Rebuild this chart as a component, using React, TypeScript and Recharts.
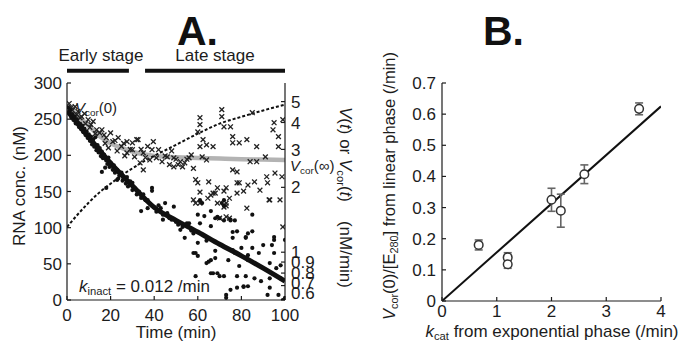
import React from "react";
import {
  ComposedChart,
  Line,
  Scatter,
  XAxis,
  YAxis,
  ReferenceLine,
  ReferenceDot,
  ErrorBar,
} from "recharts";

const FONT = '"Liberation Sans", Arial, Helvetica, sans-serif';
const INK = "#1c1c1c";

// ---------- panel A data ----------
const timeTicks = [0, 20, 40, 60, 80, 100];
const concTicks = [0, 50, 100, 150, 200, 250, 300];
const rateTicks = [0.6, 0.7, 0.8, 0.9, 1, 2, 3, 4, 5];

// exponential fit of RNA conc (nM)
const fitTime = [0, 10, 20, 30, 40, 50, 60, 70, 80, 90, 100];
const fitConc = [262, 225, 189, 158, 128, 110, 94, 77, 61, 44, 26];

// corrected rate Vcor(t), nM/min (right axis)
const vcorTime = [0, 5, 10, 15, 20, 25, 30, 35, 40, 50, 60, 70, 80, 90, 100];
const vcorRate = [4.85, 4.3, 3.85, 3.45, 3.2, 3.05, 2.93, 2.85, 2.8, 2.76, 2.74, 2.72, 2.7, 2.69, 2.68];

// uncorrected rate V(t), dotted curve
const vTime = [0, 5, 10, 15, 20, 25, 30, 35, 40, 50, 60, 70, 80, 90, 100];
const vRate = [1.31, 1.5, 1.7, 1.9, 2.08, 2.27, 2.45, 2.63, 2.8, 3.15, 3.55, 3.95, 4.25, 4.55, 4.84];

// measured RNA conc (time, nM)
const concPoints: [number, number][] = [
  [0.5, 266], [1, 259], [1.5, 263], [2, 252], [2.5, 257], [3, 249], [3.5, 254], [4, 244], [4.5, 250],
  [5, 246], [5.5, 239], [6, 244], [6.5, 236], [7, 241], [7.5, 232], [8, 237], [8.5, 228], [9, 233],
  [9.5, 224], [10, 229], [10.5, 220], [11, 226], [11.5, 215], [12, 222], [12.5, 212], [13, 225],
  [13.5, 207], [14, 214], [14.5, 204], [15, 210], [15.5, 199], [16, 205], [16, 177], [16.5, 196],
  [17, 201], [17.5, 183], [18, 193], [18, 155], [18.5, 188], [19, 197], [19.5, 184], [20, 190],
  [21, 180], [21.5, 186], [22, 176], [23, 180], [23, 166], [23.5, 168], [24, 172], [25, 176],
  [25.5, 165], [26, 168], [27, 161], [27.5, 170], [28, 157], [29, 164], [30, 152], [30, 162],
  [31, 155], [32, 146], [33, 150], [34, 141], [34, 123], [35, 146], [36, 138], [37, 127], [37, 138],
  [38, 133], [39, 151], [39, 155], [40, 128], [41, 122], [42, 131], [43, 127], [44, 118], [44, 111],
  [45, 134], [46, 120], [47, 113], [48, 111], [49, 129], [50, 108], [51, 104], [52, 97], [53, 101],
  [54, 86], [55, 106], [56, 106], [57, 96], [58, 92], [58, 65], [59, 95], [59, 65], [59, 33],
  [60, 118], [60, 79], [60, 61], [61, 138], [61, 106], [62, 134], [63, 116], [64, 82], [64, 51],
  [65, 53], [66, 123], [66, 102], [66, 55], [66, 37], [67, 37], [68, 113], [68, 68], [68, 58],
  [69, 115], [69, 37], [70, 113], [70, 33], [71, 134], [72, 130], [72, 138], [72, 110], [72, 33],
  [73, 7], [73, 3], [74, 55], [75, 111], [75, 110], [75, 14], [76, 94], [76, 86], [76, 69],
  [77, 110], [77, 65], [78, 95], [78, 33], [78, 17], [79, 47], [80, 72], [81, 19], [81, 18],
  [82, 86], [82, 87], [82, 33], [83, 92], [83, 62], [83, 55], [83, 19], [85, 118], [85, 95],
  [85, 72], [86, 51], [86, 30], [88, 65], [89, 26], [90, 76], [92, 7], [93, 51], [93, 30], [93, 17],
  [94, 76], [95, 83], [95, 87], [95, 65], [96, 44], [97, 7], [98, 48], [98, 30], [99, 0], [100, 83],
  [100, 3],
];

// measured rate V(t) (time, nM/min)
const ratePoints: [number, number][] = [
  [1, 4.9], [2, 4.7], [2.5, 4.55], [3.7, 4.74], [4.5, 4.35], [5, 4.5], [6, 4.2], [6.7, 4.26],
  [8, 4.4], [8.5, 3.95], [9.7, 4.12], [10.5, 3.8], [11, 3.91], [12, 4.05], [13, 3.55], [13.6, 3.7],
  [15, 3.58], [16, 3.7], [17, 3.5], [17.5, 3.2], [18, 3.4], [19, 3.05], [20, 3.58], [21, 3.26],
  [22, 3.3], [23, 2.95], [23.5, 3.4], [25, 3.1], [26, 3.2], [26.5, 2.8], [27.5, 3.26], [27.5, 2.89],
  [29, 3.0], [30, 3.22], [30, 2.99], [31, 2.77], [32, 3.33], [32.6, 3.33], [33.5, 2.6], [34, 3.0],
  [35, 2.89], [35, 2.41], [36, 2.75], [37, 3.1], [38, 2.68], [39, 2.99], [39.6, 3.26], [41, 2.74],
  [42, 2.99], [43.6, 2.63], [45, 2.8], [46, 2.77], [47, 2.55], [48, 2.95], [49, 2.74], [49, 2.49],
  [50, 2.7], [51, 2.55], [52, 2.63], [53, 2.49], [54, 2.6], [55, 2.7], [56, 2.74], [57, 2.83],
  [58, 2.45], [58, 1.75], [59, 2.17], [59, 1.69], [60, 3.62], [60, 2.1], [61, 4.21], [61, 3.91],
  [61, 3.09], [61, 1.9], [61, 1.69], [62, 2.77], [62.4, 3.33], [64, 3.15], [64, 2.68], [64.6, 1.78],
  [65, 2.12], [66, 1.84], [67, 3.09], [67, 1.88], [68, 1.88], [69, 1.99], [69, 1.69], [70, 1.44],
  [71, 4.59], [71, 4.26], [72, 3.82], [72, 1.92], [72, 1.62], [73, 1.99], [73, 1.69], [73, 1.64],
  [73, 1.46], [74.5, 1.78], [74.5, 1.44], [75, 3.82], [76, 3.44], [76, 3.22], [76, 2.41], [78, 2.36],
  [78, 2.1], [78, 1.88], [79, 3.22], [79, 2.1], [81, 1.92], [82.5, 3.33], [82.5, 1.6], [83, 2.05],
  [84, 2.63], [85, 4.44], [86, 2.12], [87, 3.09], [87, 2.63], [88.5, 1.94], [91, 2.77], [91.6, 2.24],
  [92, 2.1], [92.7, 1.75], [93, 1.75], [94.5, 3.7], [95, 3.99], [95.4, 2.33], [97, 3.44], [97, 3.09],
  [97.7, 1.75], [98.6, 2.24], [99, 4.12], [99, 1.31],
];

const earlyStage = [0, 28.4];
const lateStage = [35.8, 100];

// ---------- panel B data ----------
const kcatTicks = [0, 1, 2, 3, 4];
const ratioTicks = [0, 0.1, 0.2, 0.3, 0.4, 0.5, 0.6, 0.7];
const kcat = [0.67, 1.2, 1.2, 2.0, 2.17, 2.6, 3.6];
const vcor0 = [0.18, 0.14, 0.118, 0.325, 0.29, 0.407, 0.617];
const vcor0Err = [0.016, 0.015, 0.013, 0.037, 0.053, 0.03, 0.019];
const fitK = [0, 4];
const fitRatio = [0, 0.625];

// ---------- tables ----------
const fitData = fitTime.map((t, i) => ({ t, y: fitConc[i] }));
const vcorData = vcorTime.map((t, i) => ({ t, y: vcorRate[i] }));
const vData = vTime.map((t, i) => ({ t, y: vRate[i] }));
const concData = concPoints.map(([t, y]) => ({ t, y }));
const rateData = ratePoints.map(([t, y]) => ({ t, y }));
const bPoints = kcat.map((k, i) => ({ k, v: vcor0[i], err: vcor0Err[i] }));
const bLine = fitK.map((k, i) => ({ k, v: fitRatio[i] }));

// layout (px inside each svg)
const A = { left: 67, right: 285, top: 83, bottom: 300 };
const STAGE_BAR_Y = 317; // nM, just above the frame
const RIGHT_TICK_SHIFT: Record<number, number> = { 0.6: -7, 0.7: -3 };

type Part = { t: string; it?: boolean; sub?: boolean };

function Rich({ parts, x, y, size = 17, anchor = "start", rotate = 0 }: {
  parts: Part[]; x: number; y: number; size?: number; anchor?: string; rotate?: number;
}) {
  let low = false;
  const shift = size * 0.2;
  return (
    <text
      x={x}
      y={y}
      fontSize={size}
      fill={INK}
      textAnchor={anchor as any}
      style={{ whiteSpace: "pre" }}
      transform={rotate ? `rotate(${rotate} ${x} ${y})` : undefined}
    >
      {parts.map((p, i) => {
        const sub = !!p.sub;
        const dy = sub === low ? 0 : sub ? shift : -shift;
        low = sub;
        return (
          <tspan key={i} dy={dy} fontSize={sub ? size * 0.66 : size} fontStyle={p.it ? "italic" : "normal"}>
            {p.t}
          </tspan>
        );
      })}
    </text>
  );
}

function Cross(props: any) {
  const { cx, cy } = props;
  const s = 2.4;
  return (
    <g stroke="#222" strokeWidth={1.3}>
      <line x1={cx - s} y1={cy - s} x2={cx + s} y2={cy + s} />
      <line x1={cx - s} y1={cy + s} x2={cx + s} y2={cy - s} />
    </g>
  );
}

function Dot(props: any) {
  return <circle cx={props.cx} cy={props.cy} r={2.1} fill="#111" />;
}

function OpenCircle(props: any) {
  return <circle cx={props.cx} cy={props.cy} r={4.3} fill="#fff" stroke="#333" strokeWidth={1.5} />;
}

function RightTick(props: any) {
  const { x, y, payload } = props;
  const shift = RIGHT_TICK_SHIFT[payload.value] ?? 0;
  return (
    <text x={x} y={y + shift} dy="0.36em" textAnchor="start" fontSize={17} fill={INK}>
      {payload.value}
    </text>
  );
}

const tickText = { fontSize: 17, fill: INK };
const axisStroke = { stroke: INK, strokeWidth: 1.2 };

function PanelA() {
  return (
    <ComposedChart width={360} height={342} margin={{ top: A.top, right: 0, bottom: 0, left: 0 }}>
      <XAxis xAxisId="top" orientation="top" type="number" domain={[0, 100]} height={0} tick={false} tickLine={false} axisLine={axisStroke} />
      <XAxis
        dataKey="t"
        type="number"
        domain={[0, 100]}
        allowDataOverflow
        ticks={timeTicks}
        interval={0}
        height={42}
        tickSize={-4}
        tickMargin={13}
        tick={tickText}
        tickLine={axisStroke}
        axisLine={axisStroke}
        label={() => <Rich parts={[{ t: "Time (min)" }]} x={(A.left + A.right) / 2} y={338} anchor="middle" />}
      />
      <YAxis
        yAxisId="left"
        dataKey="y"
        type="number"
        domain={[0, 300]}
        allowDataOverflow
        ticks={concTicks}
        interval={0}
        width={67}
        tickSize={-4}
        tickMargin={9}
        tick={tickText}
        tickLine={axisStroke}
        axisLine={axisStroke}
        label={() => <Rich parts={[{ t: "RNA conc. (nM)" }]} x={25} y={186} anchor="middle" rotate={-90} />}
      />
      <YAxis
        yAxisId="right"
        orientation="right"
        dataKey="y"
        type="number"
        scale="log"
        domain={[0.6, 6.1]}
        allowDataOverflow
        ticks={rateTicks}
        interval={0}
        width={75}
        tickSize={-4}
        tickMargin={10}
        tick={<RightTick />}
        tickLine={axisStroke}
        axisLine={axisStroke}
        label={() => (
          <Rich
            parts={[
              { t: "V", it: true }, { t: "(" }, { t: "t", it: true }, { t: ") or " }, { t: "V", it: true },
              { t: "cor", sub: true }, { t: "(" }, { t: "t", it: true }, { t: ")    (nM/min)" },
            ]}
            x={340}
            y={107}
            rotate={90}
          />
        )}
      />

      <ReferenceLine
        yAxisId="left"
        segment={[{ x: earlyStage[0], y: STAGE_BAR_Y }, { x: earlyStage[1], y: STAGE_BAR_Y }]}
        stroke="#111"
        strokeWidth={4}
        ifOverflow="visible"
        label={{ value: "Early stage", position: "top", offset: 10, fontSize: 17, fill: INK, dx: 3 }}
      />
      <ReferenceLine
        yAxisId="left"
        segment={[{ x: lateStage[0], y: STAGE_BAR_Y }, { x: lateStage[1], y: STAGE_BAR_Y }]}
        stroke="#111"
        strokeWidth={4}
        ifOverflow="visible"
        label={{ value: "Late stage", position: "top", offset: 10, fontSize: 17, fill: INK }}
      />

      <Line yAxisId="right" data={vcorData} dataKey="y" type="monotone" stroke="#b3b3b3" strokeWidth={4.5} dot={false} activeDot={false} isAnimationActive={false} />
      <Line yAxisId="right" data={vData} dataKey="y" type="monotone" stroke="#111" strokeWidth={2} strokeDasharray="3 2" dot={false} activeDot={false} isAnimationActive={false} />
      <Scatter yAxisId="right" data={rateData} dataKey="y" shape={Cross} isAnimationActive={false} />
      <Scatter yAxisId="left" data={concData} dataKey="y" shape={Dot} isAnimationActive={false} />
      <Line yAxisId="left" data={fitData} dataKey="y" type="monotone" stroke="#111" strokeWidth={5} dot={false} activeDot={false} isAnimationActive={false} />

      <ReferenceDot
        yAxisId="right"
        x={vcorTime[0]}
        y={vcorRate[0]}
        r={0}
        ifOverflow="visible"
        label={(p: any) => (
          <Rich parts={[{ t: "V", it: true }, { t: "cor", sub: true }, { t: "(0)" }]} x={p.viewBox.x + 8} y={p.viewBox.y + 9} size={15} />
        )}
      />
      <ReferenceDot
        yAxisId="right"
        x={vcorTime[vcorTime.length - 1]}
        y={vcorRate[vcorRate.length - 1]}
        r={0}
        ifOverflow="visible"
        label={(p: any) => (
          <Rich parts={[{ t: "V", it: true }, { t: "cor", sub: true }, { t: "(\u221e)" }]} x={p.viewBox.x + 5} y={p.viewBox.y + 11} size={15} />
        )}
      />
      <ReferenceDot
        yAxisId="left"
        x={0}
        y={0}
        r={0}
        ifOverflow="visible"
        label={(p: any) => (
          <Rich parts={[{ t: "k", it: true }, { t: "inact", sub: true }, { t: " = 0.012 /min" }]} x={p.viewBox.x + 12} y={p.viewBox.y - 8} />
        )}
      />
    </ComposedChart>
  );
}

function PanelB() {
  return (
    <ComposedChart width={339} height={342} margin={{ top: 83, right: 18, bottom: 0, left: 0 }}>
      <XAxis xAxisId="top" orientation="top" type="number" domain={[0, 4]} height={0} tick={false} tickLine={false} axisLine={axisStroke} />
      <XAxis
        dataKey="k"
        type="number"
        domain={[0, 4]}
        allowDataOverflow
        ticks={kcatTicks}
        interval={0}
        height={41}
        tickSize={-4}
        tickMargin={8}
        tick={tickText}
        tickLine={axisStroke}
        axisLine={axisStroke}
        label={() => (
          <Rich
            parts={[{ t: "k", it: true }, { t: "cat", sub: true }, { t: " from exponential phase (/min)" }]}
            x={212}
            y={337}
            anchor="middle"
          />
        )}
      />
      <YAxis
        dataKey="v"
        type="number"
        domain={[0, 0.7]}
        allowDataOverflow
        ticks={ratioTicks}
        interval={0}
        width={102}
        tickSize={-4}
        tickMargin={10}
        tick={tickText}
        tickLine={axisStroke}
        axisLine={axisStroke}
        label={() => (
          <Rich
            parts={[
              { t: "V", it: true }, { t: "cor", sub: true }, { t: "(0)/[E" }, { t: "280", sub: true },
              { t: "] from linear phase (/min)" },
            ]}
            x={55}
            y={186}
            size={16.5}
            anchor="middle"
            rotate={-90}
          />
        )}
      />
      <YAxis yAxisId="r" orientation="right" type="number" domain={[0, 0.7]} width={0} tick={false} tickLine={false} axisLine={axisStroke} />

      <Line data={bLine} dataKey="v" type="linear" stroke="#111" strokeWidth={2} dot={false} activeDot={false} isAnimationActive={false} />
      <Scatter data={bPoints} dataKey="v" shape={OpenCircle} isAnimationActive={false}>
        <ErrorBar dataKey="err" direction="y" width={4} stroke="#666" strokeWidth={1.6} />
      </Scatter>
    </ComposedChart>
  );
}

export default function App() {
  return (
    <div
      style={{
        position: "fixed",
        left: 0,
        top: 0,
        width: 679,
        height: 342,
        background: "#fff",
        overflow: "hidden",
        fontFamily: FONT,
        color: INK,
      }}
    >
      <svg width={679} height={342} style={{ position: "absolute", left: 0, top: 0 }}>
        <text x={177} y={45} fontSize={41} fontWeight="bold" fill="#111">A.</text>
        <text x={483} y={45} fontSize={41} fontWeight="bold" fill="#111">B.</text>
      </svg>
      <div style={{ position: "absolute", left: 0, top: 0 }}>
        <PanelA />
      </div>
      <div style={{ position: "absolute", left: 340, top: 0 }}>
        <PanelB />
      </div>
    </div>
  );
}
